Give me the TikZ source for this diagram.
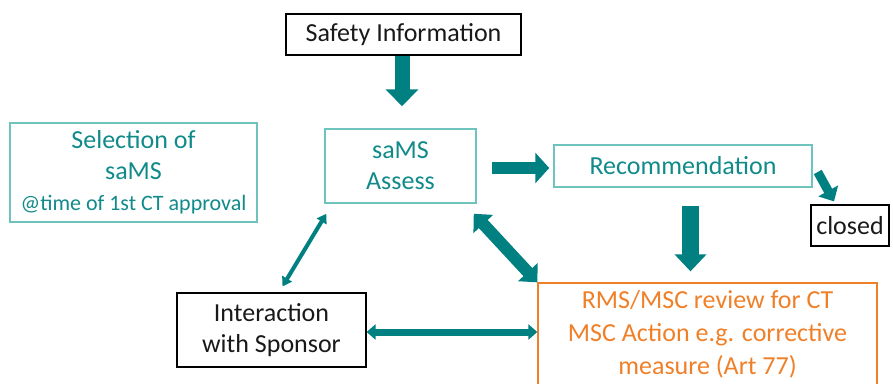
\documentclass[tikz,border=0pt]{standalone}
\usepackage{fontspec}
\setmainfont{Carlito}
\usetikzlibrary{arrows.meta,calc}

\definecolor{tealfill}{RGB}{0,128,128}
\definecolor{tealtext}{RGB}{17,138,138}
\definecolor{tealline}{RGB}{110,196,188}
\definecolor{orng}{RGB}{240,128,40}

\tikzset{
  box/.style={draw=black, line width=1.2pt, text=black!90, inner sep=0pt, align=center,
    font=\fontsize{26}{31}\selectfont},
  tealbox/.style={box, draw=tealline, line width=1.5pt, text=tealtext},
  orangebox/.style={box, draw=orng, line width=1.3pt, text=orng, font=\fontsize{26}{33}\selectfont},
  blockarrow/.style n args={3}{draw=tealfill, line width=#1, -{Triangle[width=#2,length=#3]}},
  dblarrow/.style n args={3}{draw=tealfill, line width=#1,
    {Triangle[width=#2,length=#3]}-{Triangle[width=#2,length=#3]}},
}

\begin{document}
\begin{tikzpicture}[x=1pt,y=-1pt]
  \useasboundingbox (0,0) rectangle (893,383);
  \clip (0,0) rectangle (893,383);

  % boxes
  \node[box, minimum width=235pt, minimum height=41pt] (safety) at (403.5,34.5) {Safety Information};
  \node[tealbox, minimum width=247pt, minimum height=99pt] (select) at (133.5,172.5)
    {Selection of\\saMS\\{\fontsize{22}{31}\selectfont @time of 1st CT approval}};
  \node[tealbox, minimum width=151pt, minimum height=74pt] (assess) at (400.5,166) {saMS\\Assess};
  \node[tealbox, minimum width=258pt, minimum height=42pt] (rec) at (683,166) {Recommendation};
  \node[box, minimum width=78pt, minimum height=41pt] (closed) at (850,225.5) {closed};
  \node[box, minimum width=189pt, minimum height=74pt] (inter) at (271.5,330) {Interaction\\with Sponsor};
  \node[orangebox, minimum width=339pt, minimum height=102pt] (rms) at (707.5,334)
    {RMS/MSC review for CT\\MSC Action e.g. corrective\\measure (Art 77)};

  % block arrows
  \draw[blockarrow={15pt}{32pt}{17pt}, shorten >=22pt]
    ([xshift=-1.5pt]safety.south) -- ([xshift=-1.5pt]safety.south |- assess.north);
  \draw[blockarrow={12pt}{30pt}{14pt}, shorten <=15pt, shorten >=4pt]
    ($(assess.east)+(0,2)$) -- ($(rec.west)+(0,2)$);
  \draw[blockarrow={17pt}{31pt}{17pt}, shorten <=18pt, shorten >=11pt]
    ([xshift=7.5pt]rec.south) -- ([xshift=7.5pt]rec.south |- rms.north);
  \draw[blockarrow={9pt}{22pt}{12pt}]
    ($(rec.east)+(5,6)$) -- ($(closed.north)+(-16,-3)$);

  % two-way arrows
  \draw[dblarrow={4pt}{11pt}{9pt}]
    ($(inter.north)+(11,-6)$) -- ($(assess.south west)+(2,10)$);
  \draw[dblarrow={12pt}{26pt}{14pt}]
    ($(assess.south east)+(-3,10)$) -- (rms.north west);
  \draw[dblarrow={7pt}{15pt}{9pt}]
    ($(inter.east)+(0,2)$) -- ($(inter.east -| rms.west)+(0,2)$);
\end{tikzpicture}
\end{document}
